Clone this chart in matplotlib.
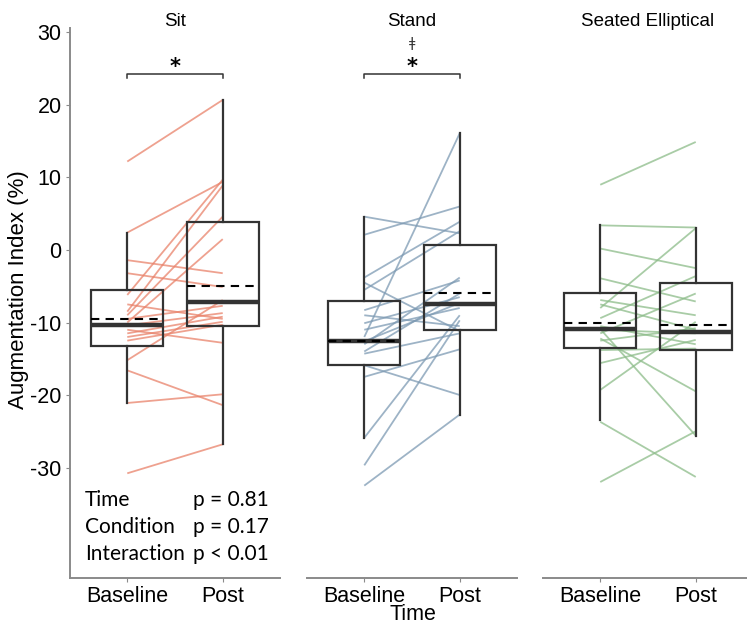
import matplotlib
matplotlib.use("Agg")
import matplotlib.pyplot as plt

plt.rcParams['font.family'] = ['Liberation Sans', 'DejaVu Sans']

# paired augmentation index values (%), one entry per participant
sit_base = [12.2, 2.4, -1.4, -3.2, -6.2, -8.5, -9.0, -10.0, -9.5, -10.4,
            -11.0, -11.5, -12.0, -15.2, -16.6, -21.1, -30.8, -7.5, -12.5]
sit_post = [20.7, 9.4, -3.2, -5.1, 9.7, 8.9, 4.6, 1.5, -7.7, -8.7,
            -12.8, -9.2, -9.9, -6.9, -21.4, -19.9, -26.8, -9.5, -10.3]

stand_base = [4.6, 2.1, -3.8, -5.5, -4.5, -12.0, -8.3, -10.1, -12.6, -13.0,
              -14.3, -15.9, -17.5, -25.9, -29.7, -32.5, -11.0, -14.0, -9.0]
stand_post = [2.3, 6.0, 3.9, 2.6, -11.2, 16.1, -4.2, -6.5, -7.3, -3.8,
              -11.5, -20.0, -13.7, -9.0, -9.7, -22.7, -8.0, -6.0, -10.5]

ell_base = [9.0, 3.4, 0.2, -3.9, -8.0, -9.4, -6.9, -10.9, -32.0, -23.7,
            -19.3, -15.6, -13.8, -12.2, -11.0, -10.5, -11.5, -7.5, -12.5]
ell_post = [14.9, 3.1, -2.5, -7.1, 3.0, -3.6, -9.0, -25.6, -25.0, -31.3,
            -9.9, -12.4, -13.6, -19.5, -11.5, -13.0, -6.0, -11.0, -10.8]

# box summaries: [baseline, post] -> (whislo, q1, med, q3, whishi, mean)
sit_box = [(-21.1, -13.2, -10.4, -5.5, 2.4, -9.5),
           (-26.8, -10.5, -7.2, 3.9, 20.7, -4.9)]
stand_box = [(-25.9, -15.9, -12.6, -7.0, 4.6, -12.6),
             (-22.7, -11.1, -7.4, 0.7, 16.1, -5.9)]
ell_box = [(-23.5, -13.5, -10.9, -5.9, 3.4, -10.1),
           (-25.6, -13.8, -11.3, -4.5, 3.1, -10.4)]

conditions = ['Sit', 'Stand', 'Seated Elliptical']
times = ['Baseline', 'Post']
yticks = [30, 20, 10, 0, -10, -20, -30]
effects = ['Time', 'Condition', 'Interaction']
pvals = ['p = 0.81', 'p = 0.17', 'p < 0.01']

panels = [
    (sit_base, sit_post, sit_box, '#E9826A'),
    (stand_base, stand_post, stand_box, '#7D9AB3'),
    (ell_base, ell_post, ell_box, '#8CBC89'),
]

W, H = 747, 625
fig = plt.figure(figsize=(W / 100, H / 100), dpi=100)

ylo, yhi = -45.24, 30.62
left_px = [70, 307, 543]
pw, top_px, bot_px = 210, 28, 578
axis_grey = '#8a8a8a'

for i, (base, post, box, col) in enumerate(panels):
    ax = fig.add_axes([left_px[i] / W, 1 - bot_px / H, pw / W, (bot_px - top_px) / H])
    ax.set_xlim(0.4, 2.6)
    ax.set_ylim(ylo, yhi)

    for b, p in zip(base, post):
        ax.plot([1, 2], [b, p], color=col, lw=1.3, alpha=0.75, zorder=2,
                solid_capstyle='butt')

    stats = []
    for label, s in zip(times, box):
        stats.append(dict(label=label, whislo=s[0], q1=s[1], med=s[2], q3=s[3],
                          whishi=s[4], mean=s[5], fliers=[]))
    ax.bxp(stats, positions=[1, 2], widths=0.75, showcaps=False, showfliers=False,
           showmeans=True, meanline=True, patch_artist=True,
           boxprops=dict(facecolor='none', edgecolor='#333333', linewidth=1.6),
           whiskerprops=dict(color='#333333', linewidth=1.6),
           medianprops=dict(color='#333333', linewidth=3.2),
           meanprops=dict(color='black', linewidth=1.5, linestyle=(0, (4, 3))),
           zorder=3)

    ax.set_xticks([1, 2])
    ax.set_xticklabels(times, fontsize=15.5)
    ax.tick_params(axis='x', length=3, color=axis_grey, pad=3)
    for side in ['top', 'right']:
        ax.spines[side].set_visible(False)
    ax.spines['bottom'].set_color(axis_grey)
    ax.spines['bottom'].set_linewidth(1.4)
    if i == 0:
        ax.spines['left'].set_color(axis_grey)
        ax.spines['left'].set_linewidth(1.4)
        ax.set_yticks(yticks)
        ax.set_yticklabels([str(t) for t in yticks], fontsize=15.5)
        ax.tick_params(axis='y', length=3, color=axis_grey, pad=3)
    else:
        ax.spines['left'].set_visible(False)
        ax.set_yticks([])

    fig.text((left_px[i] + pw / 2) / W, 1 - 22 / H, conditions[i], fontsize=13.5,
             ha='center', va='center')

    # significance bracket between baseline and post
    if i in (0, 1):
        ax.plot([1, 1, 2, 2], [23.7, 24.3, 24.3, 23.7], color='#333333', lw=1.1)
        ax.text(1.5, 25.3, '*', fontsize=15, fontweight='bold', ha='center',
                va='center', family='DejaVu Sans')
    if i == 1:
        ax.text(1.5, 28.5, 'ǂ', fontsize=10, ha='center', va='center',
                family='DejaVu Sans', color='#333333')

    if i == 0:
        for k, (eff, pv) in enumerate(zip(effects, pvals)):
            yk = -34.5 - 3.72 * k
            ax.text(0.555, yk, eff, fontsize=15, ha='left', va='center',
                    family=['Lato', 'DejaVu Sans'])
            ax.text(1.69, yk, pv, fontsize=15, ha='left', va='center',
                    family=['Lato', 'DejaVu Sans'])

fig.text(19 / W, 1 - 290 / H, 'Augmentation Index (%)', fontsize=16,
         rotation=90, ha='center', va='center')
fig.text(413 / W, 1 - 615 / H, 'Time', fontsize=15.5, ha='center', va='center')

fig.savefig('out.png', dpi=100)
